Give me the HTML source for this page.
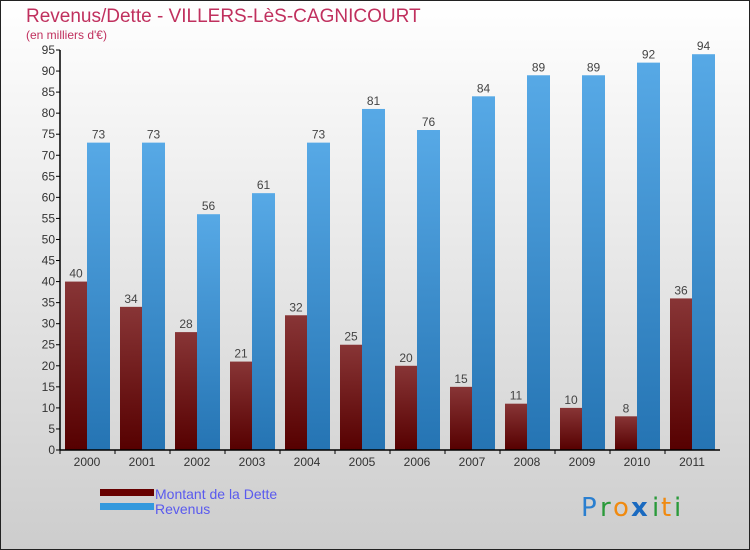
<!DOCTYPE html>
<html><head><meta charset="utf-8"><style>
body{margin:0;}
#c{width:750px;height:550px;position:relative;overflow:hidden;font-family:"Liberation Sans","DejaVu Sans",sans-serif;}
</style></head><body>
<div id="c">
<svg id="svg" width="750" height="550" xmlns="http://www.w3.org/2000/svg">
<defs>
<linearGradient id="bg" x1="0" y1="0" x2="0" y2="1"><stop offset="0" stop-color="#ffffff"/><stop offset="1" stop-color="#cdcdcd"/></linearGradient>
<linearGradient id="gd" x1="0" y1="0" x2="0" y2="1"><stop offset="0" stop-color="#883536"/><stop offset="1" stop-color="#560000"/></linearGradient>
<linearGradient id="gr" x1="0" y1="0" x2="0" y2="1"><stop offset="0" stop-color="#57a9e6"/><stop offset="1" stop-color="#2574b3"/></linearGradient>
</defs>
<rect x="0.5" y="0.5" width="749" height="549" fill="url(#bg)" stroke="#222"/>
<text x="26" y="22" font-size="19" fill="#c0305e">Revenus/Dette - VILLERS-LèS-CAGNICOURT</text>
<text x="26" y="39" font-size="12" fill="#c0305e">(en milliers d'€)</text>
<g id="bars"></g>
<g id="axes"></g>
<rect x="100" y="489" width="54" height="7" fill="#660000"/>
<rect x="100" y="503" width="54" height="7" fill="#3399dd"/>
<text x="155" y="499" font-size="14" fill="#5a5aee">Montant de la Dette</text>
<text x="155" y="514" font-size="14" fill="#5a5aee">Revenus</text>
<g font-size="26" font-family="'DejaVu Sans',sans-serif">
<text x="581" y="516" fill="#2a7fd0">P</text><text x="600" y="516" fill="#2a9a3a">r</text><text x="613" y="516" fill="#f08a10">o</text><text x="631" y="516" fill="#1a6ac0" font-weight="bold">x</text><text x="652" y="516" fill="#2a9a3a">i</text><text x="661" y="516" fill="#f08a10">t</text><text x="674" y="516" fill="#2a9a3a">i</text>
</g>
</svg>
</div>
<script>
const years=["2000","2001","2002","2003","2004","2005","2006","2007","2008","2009","2010","2011"];
const dette=[40,34,28,21,32,25,20,15,11,10,8,36];
const revenus=[73,73,56,61,73,81,76,84,89,89,92,94];
const yTicks=[0,5,10,15,20,25,30,35,40,45,50,55,60,65,70,75,80,85,90,95];
const NS="http://www.w3.org/2000/svg";
const x0=60,gw=55,yb=450,yt=50,vmax=95;
const y=v=>yb-(v/vmax)*(yb-yt);
const gx=i=>x0+i*gw;
function mk(tag,attrs,parent){const e=document.createElementNS(NS,tag);for(const k in attrs)e.setAttribute(k,attrs[k]);parent.appendChild(e);return e;}
const bars=document.getElementById('bars'),axes=document.getElementById('axes');
years.forEach((yr,i)=>{
  const bx=gx(i)+5;
  let r=mk('rect',{x:bx,y:y(dette[i]),width:22,height:yb-y(dette[i]),fill:'url(#gd)'},bars);
  
  
  let r2=mk('rect',{x:bx+22,y:y(revenus[i]),width:23,height:yb-y(revenus[i]),fill:'url(#gr)'},bars);
  
  
  let t=mk('text',{x:bx+11,y:y(dette[i])-4,'font-size':12,fill:'#444','text-anchor':'middle'},bars);t.textContent=dette[i];
  
  
  let t2=mk('text',{x:bx+33.5,y:y(revenus[i])-4,'font-size':12,fill:'#444','text-anchor':'middle'},bars);t2.textContent=revenus[i];
  
  
  let xl=mk('text',{x:bx+22,y:466,'font-size':12,fill:'#333','text-anchor':'middle'},axes);xl.textContent=yr;
  
  
  mk('line',{x1:gx(i),x2:gx(i),y1:yb,y2:yb+4,stroke:'#000'},axes);
});
yTicks.forEach(v=>{
  mk('line',{x1:x0-4,x2:x0,y1:y(v),y2:y(v),stroke:'#000'},axes);
  let t=mk('text',{x:x0-5,y:y(v)+4,'font-size':12,fill:'#333','text-anchor':'end'},axes);t.textContent=v;
  
  
});
let ya=mk('line',{x1:x0,x2:x0,y1:yt,y2:yb,stroke:'#000','stroke-width':1.5},axes);


let xa=mk('line',{x1:x0,x2:720,y1:yb,y2:yb,stroke:'#000','stroke-width':1.5},axes);


</script>
</body></html>
